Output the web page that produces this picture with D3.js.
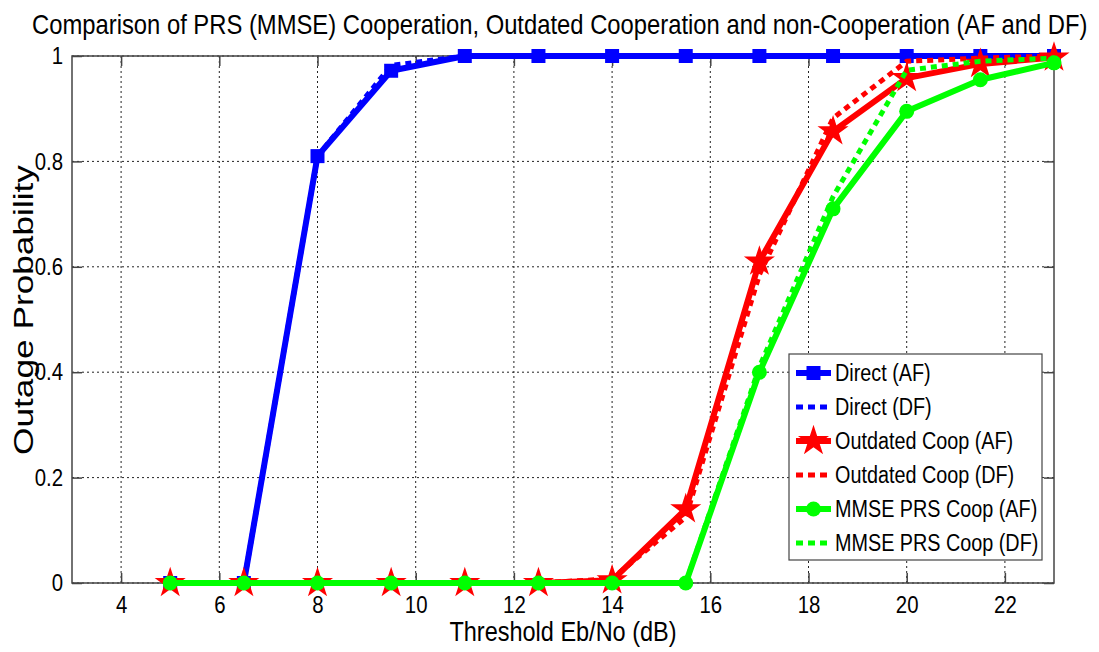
<!DOCTYPE html>
<html>
<head>
<meta charset="utf-8">
<script src="https://cdn.jsdelivr.net/npm/d3@7"></script>
<style>
  html, body { margin: 0; padding: 0; background: #fff; }
  svg { display: block; font-family: "Liberation Sans", Arial, sans-serif; }
</style>
</head>
<body>
<svg id="chart" width="1099" height="652"></svg>
<script>
// Threshold Eb/No values (dB)
const thresholds = [5, 6.5, 8, 9.5, 11, 12.5, 14, 15.5, 17, 18.5, 20, 21.5, 23];

// Outage probability per scheme
const directAF   = [0, 0, 0.81, 0.972, 1, 1, 1, 1, 1, 1, 1, 1, 1];
const directDF   = [0, 0, 0.81, 0.982, 1, 1, 1, 1, 1, 1, 1, 1, 1];
const outdatedAF = [0, 0, 0, 0, 0, 0, 0.005, 0.14, 0.61, 0.857, 0.958, 0.985, 0.997];
const outdatedDF = [0, 0, 0, 0, 0, 0, 0.008, 0.125, 0.585, 0.882, 0.99, 0.996, 1];
const mmseAF     = [0, 0, 0, 0, 0, 0, 0, 0, 0.40, 0.71, 0.895, 0.955, 0.987];
const mmseDF     = [0, 0, 0, 0, 0, 0, 0, 0, 0.41, 0.733, 0.973, 0.99, 0.996];

const xTicks = [4, 6, 8, 10, 12, 14, 16, 18, 20, 22];
const yTicks = [0, 0.2, 0.4, 0.6, 0.8, 1];

const seriesNames = ["Direct (AF)", "Direct (DF)", "Outdated Coop (AF)",
                     "Outdated Coop (DF)", "MMSE PRS Coop (AF)", "MMSE PRS Coop (DF)"];
const seriesValues = [directAF, directDF, outdatedAF, outdatedDF, mmseAF, mmseDF];
const seriesColors = ["#0000ff", "#0000ff", "#ff0000", "#ff0000", "#00ff00", "#00ff00"];
const seriesMarkers = ["square", null, "star", null, "circle", null];

const titleText = "Comparison of PRS (MMSE) Cooperation, Outdated Cooperation and non-Cooperation (AF and DF)";
const xLabel = "Threshold Eb/No (dB)";
const yLabel = "Outage Probability";

const svg = d3.select("#chart");
const plot = { left: 72, right: 1054, top: 56, bottom: 583 };

const x = d3.scaleLinear().domain([3, 23]).range([plot.left, plot.right]);
const y = d3.scaleLinear().domain([0, 1]).range([plot.bottom, plot.top]);

// Narrow a text horizontally so its glyphs read tall and condensed
function condense(sel, factor) {
  sel.each(function () {
    const w = this.getComputedTextLength();
    d3.select(this).attr("textLength", w * factor).attr("lengthAdjust", "spacingAndGlyphs");
  });
}

// Dotted grid
const grid = svg.append("g");
grid.selectAll(".gx").data(xTicks).join("line")
  .attr("x1", d => x(d)).attr("x2", d => x(d))
  .attr("y1", plot.top).attr("y2", plot.bottom)
  .attr("stroke", "#222").attr("stroke-width", 1).attr("stroke-dasharray", "2,3");
grid.selectAll(".gy").data(yTicks).join("line")
  .attr("x1", plot.left).attr("x2", plot.right)
  .attr("y1", d => y(d)).attr("y2", d => y(d))
  .attr("stroke", "#222").attr("stroke-width", 1).attr("stroke-dasharray", "2,3");

// Axes box with inward ticks
const axisColor = "#444";
const tickLen = 10;
const axes = svg.append("g");
axes.append("rect")
  .attr("x", plot.left).attr("y", plot.top)
  .attr("width", plot.right - plot.left).attr("height", plot.bottom - plot.top)
  .attr("fill", "none").attr("stroke", axisColor).attr("stroke-width", 1.5);

const bottomAxis = d3.axisBottom(x).tickValues(xTicks).tickSize(-tickLen).tickPadding(13).tickFormat(d3.format("d"));
const topAxis = d3.axisTop(x).tickValues(xTicks).tickSize(-tickLen).tickFormat("");
const leftAxis = d3.axisLeft(y).tickValues(yTicks).tickSize(-tickLen).tickPadding(9).tickFormat(d => d === 0 || d === 1 ? d3.format("d")(d) : d3.format(".1f")(d));
const rightAxis = d3.axisRight(y).tickValues(yTicks).tickSize(-tickLen).tickFormat("");

function styleAxis(g) {
  g.select(".domain").remove();
  g.selectAll(".tick line").attr("stroke", axisColor).attr("stroke-width", 1.5);
  g.selectAll(".tick text").attr("fill", "#000").style("font-size", "24px")
    .style("font-family", "'Liberation Sans', Arial, sans-serif");
}
axes.append("g").attr("transform", `translate(0,${plot.bottom})`).call(bottomAxis).call(styleAxis)
  .selectAll(".tick text").call(condense, 0.85);
axes.append("g").attr("transform", `translate(0,${plot.top})`).call(topAxis).call(styleAxis);
axes.append("g").attr("transform", `translate(${plot.left},0)`).call(leftAxis).call(styleAxis)
  .selectAll(".tick text").call(condense, 0.85);
axes.append("g").attr("transform", `translate(${plot.right},0)`).call(rightAxis).call(styleAxis);

// Curves and markers
const line = d3.line().x(d => x(d[0])).y(d => y(d[1]));
const star = d3.symbol().type(d3.symbolStar).size(300);

function drawMarker(g, type, color, cx, cy) {
  if (type === "square") {
    g.append("rect").attr("x", cx - 7).attr("y", cy - 7).attr("width", 14).attr("height", 14).attr("fill", color);
  } else if (type === "circle") {
    g.append("circle").attr("cx", cx).attr("cy", cy).attr("r", 7.5).attr("fill", color);
  } else if (type === "star") {
    g.append("path").attr("d", star()).attr("transform", `translate(${cx},${cy})`).attr("fill", color);
  }
}

const curves = svg.append("g");
seriesValues.forEach((vals, i) => {
  const pts = thresholds.map((t, j) => [t, vals[j]]);
  const g = curves.append("g");
  const dotted = seriesMarkers[i] === null;
  g.append("path").datum(pts)
    .attr("d", line)
    .attr("fill", "none")
    .attr("stroke", seriesColors[i])
    .attr("stroke-width", dotted ? 5 : 6)
    .attr("stroke-linejoin", "round")
    .attr("stroke-dasharray", dotted ? "6,5" : null);
  if (!dotted) {
    pts.forEach(p => drawMarker(g, seriesMarkers[i], seriesColors[i], x(p[0]), y(p[1])));
  }
});

// Legend
const legend = svg.append("g");
const lg = { x: 789, y: 354, w: 253, h: 206, rowH: 34, firstRow: 373 };
legend.append("rect")
  .attr("x", lg.x).attr("y", lg.y).attr("width", lg.w).attr("height", lg.h)
  .attr("fill", "#fff").attr("stroke", axisColor).attr("stroke-width", 1.2);
seriesNames.forEach((name, i) => {
  const cy = lg.firstRow + i * lg.rowH;
  const g = legend.append("g");
  const dotted = seriesMarkers[i] === null;
  g.append("line")
    .attr("x1", 796).attr("x2", 831).attr("y1", cy).attr("y2", cy)
    .attr("stroke", seriesColors[i]).attr("stroke-width", dotted ? 5 : 6)
    .attr("stroke-dasharray", dotted ? "7,5" : null);
  if (!dotted) drawMarker(g, seriesMarkers[i], seriesColors[i], 813.5, cy);
  g.append("text").attr("x", 835).attr("y", cy + 8)
    .style("font-size", "23px").attr("fill", "#000").text(name)
    .call(condense, 0.86);
});

// Title: drawn at a modest size, then scaled so it spans the top of the figure
const titleWidth = 1056;
const titleG = svg.append("g");
const titleNode = titleG.append("text")
  .attr("x", 0).attr("y", 0)
  .style("font-size", "24px").attr("fill", "#000").text(titleText);
const natural = titleNode.node().getComputedTextLength();
titleG.attr("transform", `translate(32,34) scale(${titleWidth / natural},1.16)`);

svg.append("text")
  .attr("x", 563).attr("y", 641)
  .attr("text-anchor", "middle")
  .style("font-size", "27px").attr("fill", "#000").text(xLabel)
  .call(condense, 0.87);

svg.append("text")
  .attr("transform", `translate(33,310) rotate(-90)`)
  .attr("text-anchor", "middle")
  .attr("textLength", 290).attr("lengthAdjust", "spacingAndGlyphs")
  .style("font-size", "27px").attr("fill", "#000").text(yLabel);
</script>
</body>
</html>
